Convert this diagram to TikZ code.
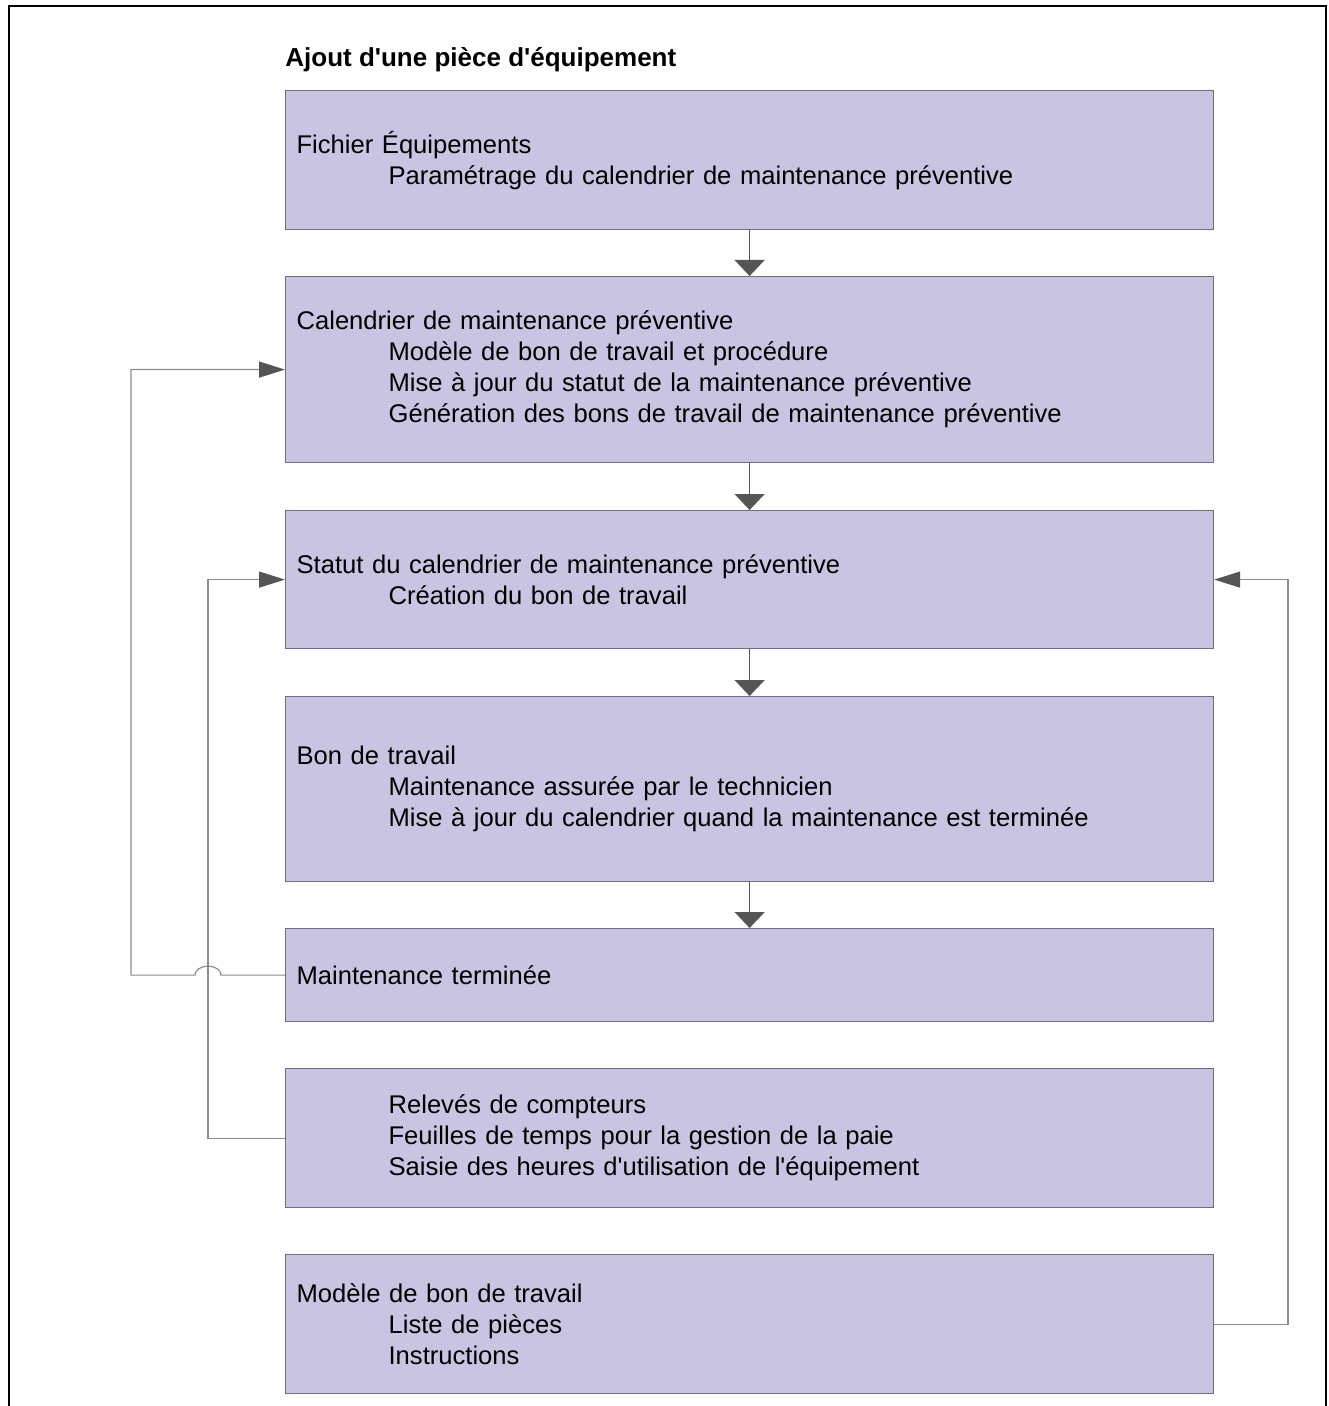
\documentclass[tikz,border=0pt]{standalone}
\usepackage{fontspec}
\setmainfont{Liberation Sans}[Ligatures=TeXOff]
\usetikzlibrary{positioning,arrows.meta,calc}
\definecolor{boxfill}{RGB}{200,196,225}
\definecolor{boxline}{RGB}{110,108,125}
\definecolor{headgray}{RGB}{85,85,85}
\definecolor{loopgray}{RGB}{140,140,140}
\tikzset{stepbox/.style={draw=boxline,fill=boxfill,line width=0.6pt,rectangle,
    minimum width=464pt,text width=453pt,inner xsep=5.5pt,inner ysep=0pt,align=left,
    font=\fontsize{12.8}{15.5}\selectfont}}
\tikzset{flow/.style={draw=headgray,line width=0.6pt,-{Triangle[width=15pt,length=8pt]}}}
\tikzset{loopline/.style={draw=loopgray,line width=0.6pt,-{Triangle[width=8pt,length=13pt,color=headgray]}}}
\newcommand{\ind}{\hspace*{46pt}}

\begin{document}
\begin{tikzpicture}
  \useasboundingbox (0,0) rectangle (664pt,-703pt);
  \draw[line width=1pt] (4.5pt,-703pt) -- (4.5pt,-3pt) -- (663pt,-3pt) -- (663pt,-703pt);
  \node[anchor=west,inner sep=0pt,font=\bfseries\fontsize{13}{15}\selectfont] (titre) at (142.5pt,-30pt)
    {Ajout d'une pièce d'équipement};
  \node[stepbox,minimum height=69.5pt,anchor=north west] (fichier) at (142.5pt,-45pt)
    {Fichier Équipements\\ \ind Paramétrage du calendrier de maintenance préventive};
  \node[stepbox,minimum height=93pt,below=22.9pt of fichier] (calend)
    {Calendrier de maintenance préventive\\
     \ind Modèle de bon de travail et procédure\\
     \ind Mise à jour du statut de la maintenance préventive\\
     \ind Génération des bons de travail de maintenance préventive};
  \node[stepbox,minimum height=69pt,below=23.4pt of calend] (statut)
    {Statut du calendrier de maintenance préventive\\ \ind Création du bon de travail};
  \node[stepbox,minimum height=92.5pt,below=23.4pt of statut] (bon)
    {Bon de travail\\
     \ind Maintenance assurée par le technicien\\
     \ind Mise à jour du calendrier quand la maintenance est terminée};
  \node[stepbox,minimum height=46.5pt,below=22.9pt of bon] (fini)
    {Maintenance terminée};
  \node[stepbox,minimum height=69.5pt,below=22.9pt of fini] (releves)
    {\ind Relevés de compteurs\\
     \ind Feuilles de temps pour la gestion de la paie\\
     \ind Saisie des heures d'utilisation de l'équipement};
  \node[stepbox,minimum height=69.5pt,below=22.9pt of releves] (modele)
    {Modèle de bon de travail\\ \ind Liste de pièces\\ \ind Instructions};
  \foreach \a/\b in {fichier/calend,calend/statut,statut/bon,bon/fini}
    \draw[flow] (\a) -- (\b);
  % boucles de retour
  \coordinate (gauchea) at (65.5pt,0);
  \coordinate (gaucheb) at (104pt,0);
  \coordinate (droite) at (644pt,0);
  \draw[loopline] (fini.west) -- ($(fini.west -| gaucheb)+(6.5pt,0)$)
    arc[start angle=0,end angle=180,x radius=6.5pt,y radius=4.5pt]
    -- (fini.west -| gauchea) -- (calend.west -| gauchea) -- (calend.west);
  \draw[loopline] (releves.west) -- (releves.west -| gaucheb) -- (statut.west -| gaucheb) -- (statut.west);
  \draw[loopline] (modele.east) -- (modele.east -| droite) -- (statut.east -| droite) -- (statut.east);
\end{tikzpicture}
\end{document}
